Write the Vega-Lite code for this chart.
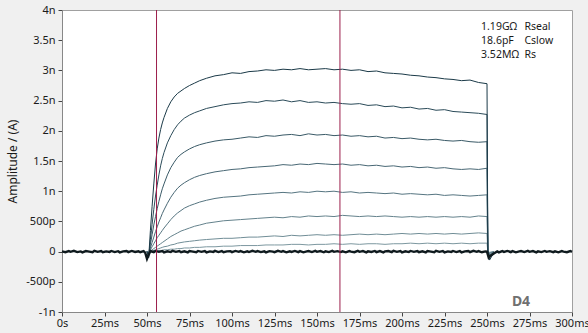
{
  "$schema": "https://vega.github.io/schema/vega-lite/v6.json",
  "width": 510,
  "height": 302,
  "autosize": "none",
  "padding": {"left": 62, "top": 10, "right": 16, "bottom": 21},
  "background": "#f0f0f0",
  "config": {
    "view": {"fill": "white", "stroke": "#a0a0a0"},
    "font": "Noto Sans",
    "axis": {"grid": false, "tickSize": 4, "labelFontSize": 11, "labelColor": "#1a1a1a", "domainColor": "#888888", "tickColor": "#444444", "titleFontWeight": "normal", "titleFontSize": 12, "titleColor": "#1a1a1a", "labelFlush": false, "labelOverlap": false}
  },
  "datasets": {
    "traces": [
      {"t": 50, "a": 0, "b": 0, "c": 0, "d": 0, "e": 0, "f": 0, "g": 0, "h": 0},
      {"t": 51, "a": -0.1, "b": -0.08, "c": -0.06, "d": -0.05, "e": -0.04, "f": -0.03, "g": -0.02, "h": -0.01},
      {"t": 52, "a": 0.35, "b": 0.2, "c": 0.12, "d": 0.06, "e": 0.03, "f": 0.01, "g": 0, "h": 0},
      {"t": 53, "a": 0.75, "b": 0.45, "c": 0.28, "d": 0.15, "e": 0.08, "f": 0.03, "g": 0.01, "h": 0},
      {"t": 54, "a": 1.12, "b": 0.7, "c": 0.44, "d": 0.24, "e": 0.13, "f": 0.05, "g": 0.02, "h": 0.01},
      {"t": 55, "a": 1.45, "b": 0.92, "c": 0.58, "d": 0.33, "e": 0.18, "f": 0.07, "g": 0.03, "h": 0.01},
      {"t": 56, "a": 1.7, "b": 1.1, "c": 0.71, "d": 0.41, "e": 0.23, "f": 0.09, "g": 0.04, "h": 0.01},
      {"t": 57, "a": 1.88, "b": 1.27, "c": 0.83, "d": 0.49, "e": 0.27, "f": 0.11, "g": 0.05, "h": 0.02},
      {"t": 58, "a": 2.02, "b": 1.42, "c": 0.94, "d": 0.56, "e": 0.31, "f": 0.13, "g": 0.06, "h": 0.02},
      {"t": 59, "a": 2.13, "b": 1.54, "c": 1.04, "d": 0.63, "e": 0.35, "f": 0.15, "g": 0.07, "h": 0.02},
      {"t": 60, "a": 2.22, "b": 1.64, "c": 1.12, "d": 0.69, "e": 0.39, "f": 0.17, "g": 0.08, "h": 0.03},
      {"t": 62, "a": 2.37, "b": 1.8, "c": 1.27, "d": 0.8, "e": 0.46, "f": 0.21, "g": 0.09, "h": 0.03},
      {"t": 64, "a": 2.48, "b": 1.92, "c": 1.39, "d": 0.9, "e": 0.53, "f": 0.25, "g": 0.11, "h": 0.04},
      {"t": 66, "a": 2.56, "b": 2.02, "c": 1.48, "d": 0.98, "e": 0.59, "f": 0.28, "g": 0.12, "h": 0.04},
      {"t": 68, "a": 2.62, "b": 2.1, "c": 1.56, "d": 1.05, "e": 0.64, "f": 0.31, "g": 0.14, "h": 0.05},
      {"t": 70, "a": 2.66, "b": 2.16, "c": 1.61, "d": 1.1, "e": 0.68, "f": 0.34, "g": 0.15, "h": 0.05},
      {"t": 72, "a": 2.7, "b": 2.21, "c": 1.65, "d": 1.14, "e": 0.72, "f": 0.36, "g": 0.16, "h": 0.06},
      {"t": 75, "a": 2.75, "b": 2.26, "c": 1.7, "d": 1.19, "e": 0.76, "f": 0.39, "g": 0.17, "h": 0.06},
      {"t": 78, "a": 2.79, "b": 2.3, "c": 1.74, "d": 1.23, "e": 0.79, "f": 0.42, "g": 0.18, "h": 0.07},
      {"t": 81, "a": 2.83, "b": 2.33, "c": 1.77, "d": 1.26, "e": 0.82, "f": 0.44, "g": 0.19, "h": 0.07},
      {"t": 85, "a": 2.87, "b": 2.37, "c": 1.8, "d": 1.29, "e": 0.85, "f": 0.47, "g": 0.2, "h": 0.08},
      {"t": 90, "a": 2.91, "b": 2.4, "c": 1.83, "d": 1.32, "e": 0.88, "f": 0.49, "g": 0.21, "h": 0.08},
      {"t": 95, "a": 2.93, "b": 2.43, "c": 1.85, "d": 1.34, "e": 0.9, "f": 0.51, "g": 0.22, "h": 0.09},
      {"t": 100, "a": 2.96, "b": 2.45, "c": 1.86, "d": 1.36, "e": 0.91, "f": 0.52, "g": 0.22, "h": 0.09},
      {"t": 105, "a": 2.95, "b": 2.46, "c": 1.88, "d": 1.37, "e": 0.92, "f": 0.53, "g": 0.23, "h": 0.1},
      {"t": 110, "a": 2.98, "b": 2.48, "c": 1.9, "d": 1.39, "e": 0.94, "f": 0.54, "g": 0.24, "h": 0.1},
      {"t": 115, "a": 2.99, "b": 2.47, "c": 1.89, "d": 1.4, "e": 0.95, "f": 0.55, "g": 0.24, "h": 0.1},
      {"t": 120, "a": 3.01, "b": 2.5, "c": 1.92, "d": 1.41, "e": 0.96, "f": 0.56, "g": 0.25, "h": 0.11},
      {"t": 125, "a": 3.0, "b": 2.49, "c": 1.91, "d": 1.42, "e": 0.97, "f": 0.57, "g": 0.26, "h": 0.11},
      {"t": 130, "a": 3.02, "b": 2.51, "c": 1.93, "d": 1.44, "e": 0.98, "f": 0.56, "g": 0.25, "h": 0.11},
      {"t": 135, "a": 3.01, "b": 2.48, "c": 1.94, "d": 1.43, "e": 0.97, "f": 0.58, "g": 0.27, "h": 0.12},
      {"t": 140, "a": 3.03, "b": 2.5, "c": 1.92, "d": 1.45, "e": 0.99, "f": 0.57, "g": 0.26, "h": 0.12},
      {"t": 145, "a": 3.01, "b": 2.47, "c": 1.95, "d": 1.44, "e": 0.98, "f": 0.59, "g": 0.27, "h": 0.11},
      {"t": 150, "a": 3.02, "b": 2.48, "c": 1.93, "d": 1.46, "e": 1.0, "f": 0.58, "g": 0.28, "h": 0.12},
      {"t": 155, "a": 3.03, "b": 2.46, "c": 1.94, "d": 1.45, "e": 0.99, "f": 0.59, "g": 0.27, "h": 0.12},
      {"t": 160, "a": 3.01, "b": 2.47, "c": 1.92, "d": 1.44, "e": 1.0, "f": 0.58, "g": 0.28, "h": 0.13},
      {"t": 165, "a": 3.02, "b": 2.45, "c": 1.93, "d": 1.45, "e": 0.98, "f": 0.6, "g": 0.27, "h": 0.12},
      {"t": 170, "a": 3.0, "b": 2.44, "c": 1.91, "d": 1.43, "e": 0.99, "f": 0.59, "g": 0.28, "h": 0.13},
      {"t": 175, "a": 3.01, "b": 2.45, "c": 1.92, "d": 1.44, "e": 0.97, "f": 0.58, "g": 0.29, "h": 0.12},
      {"t": 180, "a": 2.98, "b": 2.42, "c": 1.9, "d": 1.42, "e": 0.98, "f": 0.59, "g": 0.28, "h": 0.13},
      {"t": 185, "a": 2.99, "b": 2.43, "c": 1.91, "d": 1.43, "e": 0.97, "f": 0.58, "g": 0.29, "h": 0.13},
      {"t": 190, "a": 2.96, "b": 2.4, "c": 1.88, "d": 1.41, "e": 0.96, "f": 0.59, "g": 0.28, "h": 0.12},
      {"t": 195, "a": 2.95, "b": 2.41, "c": 1.89, "d": 1.42, "e": 0.97, "f": 0.58, "g": 0.29, "h": 0.13},
      {"t": 200, "a": 2.94, "b": 2.38, "c": 1.87, "d": 1.4, "e": 0.95, "f": 0.57, "g": 0.3, "h": 0.13},
      {"t": 205, "a": 2.92, "b": 2.39, "c": 1.88, "d": 1.41, "e": 0.96, "f": 0.58, "g": 0.29, "h": 0.14},
      {"t": 210, "a": 2.91, "b": 2.36, "c": 1.86, "d": 1.39, "e": 0.95, "f": 0.57, "g": 0.3, "h": 0.13},
      {"t": 215, "a": 2.89, "b": 2.37, "c": 1.85, "d": 1.4, "e": 0.94, "f": 0.58, "g": 0.29, "h": 0.14},
      {"t": 220, "a": 2.88, "b": 2.34, "c": 1.86, "d": 1.38, "e": 0.95, "f": 0.57, "g": 0.3, "h": 0.13},
      {"t": 225, "a": 2.86, "b": 2.35, "c": 1.84, "d": 1.39, "e": 0.93, "f": 0.58, "g": 0.29, "h": 0.14},
      {"t": 230, "a": 2.85, "b": 2.32, "c": 1.83, "d": 1.37, "e": 0.94, "f": 0.57, "g": 0.3, "h": 0.13},
      {"t": 235, "a": 2.83, "b": 2.31, "c": 1.84, "d": 1.36, "e": 0.93, "f": 0.58, "g": 0.29, "h": 0.14},
      {"t": 240, "a": 2.84, "b": 2.3, "c": 1.82, "d": 1.37, "e": 0.92, "f": 0.57, "g": 0.3, "h": 0.13},
      {"t": 245, "a": 2.8, "b": 2.29, "c": 1.81, "d": 1.36, "e": 0.93, "f": 0.59, "g": 0.31, "h": 0.14},
      {"t": 250, "a": 2.78, "b": 2.27, "c": 1.82, "d": 1.38, "e": 0.94, "f": 0.58, "g": 0.3, "h": 0.14},
      {"t": 250.5, "a": 0.02, "b": 0.02, "c": 0.02, "d": 0.02, "e": 0.01, "f": 0.01, "g": 0, "h": 0},
      {"t": 251.5, "a": -0.14, "b": -0.1, "c": -0.08, "d": -0.06, "e": -0.05, "f": -0.03, "g": -0.02, "h": -0.01},
      {"t": 254, "a": -0.02, "b": -0.02, "c": -0.01, "d": -0.01, "e": 0, "f": 0, "g": 0, "h": 0}
    ],
    "base": [
      {"t": 0, "v": 0.005}, {"t": 2, "v": -0.01}, {"t": 4, "v": 0.008}, {"t": 5, "v": -0.004}, {"t": 7, "v": 0.012},
      {"t": 9, "v": -0.008}, {"t": 11, "v": 0.003}, {"t": 12, "v": -0.012}, {"t": 14, "v": 0.009}, {"t": 16, "v": 0.0},
      {"t": 18, "v": -0.009}, {"t": 19, "v": 0.012}, {"t": 21, "v": -0.004}, {"t": 23, "v": 0.008}, {"t": 24, "v": -0.011},
      {"t": 26, "v": 0.004}, {"t": 28, "v": -0.005}, {"t": 29, "v": 0.011}, {"t": 31, "v": -0.008}, {"t": 33, "v": 0.007},
      {"t": 34, "v": -0.012}, {"t": 36, "v": 0.004}, {"t": 38, "v": 0.009}, {"t": 39, "v": -0.008}, {"t": 41, "v": 0.011},
      {"t": 43, "v": -0.005}, {"t": 45, "v": 0.006}, {"t": 46, "v": -0.01}, {"t": 48, "v": 0.008}, {"t": 49, "v": -0.02},
      {"t": 50, "v": -0.12}, {"t": 51, "v": -0.05}, {"t": 52, "v": 0.01}, {"t": 54, "v": -0.008}, {"t": 55, "v": 0.011},
      {"t": 57, "v": -0.004}, {"t": 59, "v": 0.008}, {"t": 60, "v": -0.012}, {"t": 62, "v": 0.004}, {"t": 64, "v": -0.008},
      {"t": 65, "v": 0.012}, {"t": 67, "v": -0.004}, {"t": 69, "v": 0.009}, {"t": 70, "v": -0.009}, {"t": 72, "v": 0.004},
      {"t": 74, "v": -0.012}, {"t": 75, "v": 0.008}, {"t": 77, "v": 0.0}, {"t": 79, "v": -0.009}, {"t": 80, "v": 0.011},
      {"t": 82, "v": -0.004}, {"t": 84, "v": 0.008}, {"t": 85, "v": -0.012}, {"t": 87, "v": 0.004}, {"t": 89, "v": -0.005},
      {"t": 90, "v": 0.012}, {"t": 92, "v": -0.008}, {"t": 94, "v": 0.008}, {"t": 95, "v": -0.011}, {"t": 97, "v": 0.004},
      {"t": 99, "v": 0.008}, {"t": 100, "v": -0.009}, {"t": 102, "v": 0.011}, {"t": 104, "v": -0.004}, {"t": 105, "v": 0.008},
      {"t": 107, "v": -0.012}, {"t": 109, "v": 0.004}, {"t": 110, "v": -0.008}, {"t": 112, "v": 0.012}, {"t": 114, "v": -0.004},
      {"t": 115, "v": 0.008}, {"t": 117, "v": -0.008}, {"t": 119, "v": 0.004}, {"t": 120, "v": -0.012}, {"t": 122, "v": 0.008},
      {"t": 124, "v": 0.0}, {"t": 125, "v": -0.009}, {"t": 127, "v": 0.012}, {"t": 129, "v": -0.004}, {"t": 130, "v": 0.008},
      {"t": 132, "v": -0.012}, {"t": 134, "v": 0.004}, {"t": 135, "v": -0.005}, {"t": 137, "v": 0.011}, {"t": 139, "v": -0.008},
      {"t": 140, "v": 0.008}, {"t": 142, "v": -0.012}, {"t": 144, "v": 0.004}, {"t": 145, "v": 0.009}, {"t": 147, "v": -0.008},
      {"t": 149, "v": 0.012}, {"t": 150, "v": -0.004}, {"t": 152, "v": 0.008}, {"t": 154, "v": -0.011}, {"t": 155, "v": 0.004},
      {"t": 157, "v": -0.008}, {"t": 159, "v": 0.012}, {"t": 160, "v": -0.004}, {"t": 162, "v": 0.008}, {"t": 164, "v": -0.008},
      {"t": 165, "v": 0.004}, {"t": 167, "v": -0.012}, {"t": 169, "v": 0.008}, {"t": 170, "v": 0.0}, {"t": 172, "v": -0.009},
      {"t": 174, "v": 0.012}, {"t": 175, "v": -0.004}, {"t": 177, "v": 0.008}, {"t": 179, "v": -0.012}, {"t": 180, "v": 0.004},
      {"t": 182, "v": -0.005}, {"t": 184, "v": 0.011}, {"t": 185, "v": -0.008}, {"t": 187, "v": 0.008}, {"t": 189, "v": -0.012},
      {"t": 190, "v": 0.004}, {"t": 192, "v": 0.009}, {"t": 194, "v": -0.008}, {"t": 195, "v": 0.012}, {"t": 197, "v": -0.004},
      {"t": 199, "v": 0.008}, {"t": 200, "v": -0.012}, {"t": 202, "v": 0.004}, {"t": 204, "v": -0.008}, {"t": 205, "v": 0.011},
      {"t": 207, "v": -0.004}, {"t": 209, "v": 0.008}, {"t": 210, "v": -0.009}, {"t": 212, "v": 0.004}, {"t": 214, "v": -0.012},
      {"t": 215, "v": 0.008}, {"t": 217, "v": 0.0}, {"t": 219, "v": -0.009}, {"t": 220, "v": 0.012}, {"t": 222, "v": -0.004},
      {"t": 224, "v": 0.008}, {"t": 225, "v": -0.012}, {"t": 227, "v": 0.004}, {"t": 229, "v": -0.005}, {"t": 230, "v": 0.011},
      {"t": 232, "v": -0.008}, {"t": 234, "v": 0.008}, {"t": 235, "v": -0.012}, {"t": 237, "v": 0.004}, {"t": 239, "v": 0.009},
      {"t": 240, "v": -0.008}, {"t": 242, "v": 0.012}, {"t": 244, "v": -0.004}, {"t": 245, "v": 0.008}, {"t": 247, "v": -0.011},
      {"t": 249, "v": 0.004}, {"t": 250, "v": 0.0}, {"t": 251, "v": -0.1}, {"t": 252, "v": -0.07}, {"t": 254, "v": -0.03},
      {"t": 256, "v": 0.004}, {"t": 257, "v": -0.012}, {"t": 259, "v": 0.008}, {"t": 260, "v": -0.005}, {"t": 262, "v": 0.011},
      {"t": 264, "v": -0.008}, {"t": 265, "v": 0.008}, {"t": 267, "v": -0.012}, {"t": 269, "v": 0.004}, {"t": 270, "v": 0.009},
      {"t": 272, "v": -0.008}, {"t": 274, "v": 0.012}, {"t": 275, "v": -0.004}, {"t": 277, "v": 0.008}, {"t": 279, "v": -0.012},
      {"t": 280, "v": 0.004}, {"t": 282, "v": -0.008}, {"t": 284, "v": 0.011}, {"t": 285, "v": -0.004}, {"t": 287, "v": 0.008},
      {"t": 289, "v": -0.009}, {"t": 290, "v": 0.004}, {"t": 292, "v": -0.012}, {"t": 294, "v": 0.008}, {"t": 295, "v": 0.0},
      {"t": 297, "v": -0.009}, {"t": 299, "v": 0.01}, {"t": 300, "v": -0.004}
    ],
    "cursors": [{"t": 55.6}, {"t": 163.5}],
    "info": [
      {"t": 246.5, "v": 3.725, "txt": "1.19GΩ"},
      {"t": 272, "v": 3.725, "txt": "Rseal"},
      {"t": 246.5, "v": 3.488, "txt": "18.6pF"},
      {"t": 272, "v": 3.488, "txt": "Cslow"},
      {"t": 246.5, "v": 3.257, "txt": "3.52MΩ"},
      {"t": 272, "v": 3.257, "txt": "Rs"}
    ],
    "label": [{"t": 270, "v": -0.83, "txt": "D4"}]
  },
  "layer": [
    {
      "data": {"name": "traces"},
      "transform": [{"fold": ["h", "g", "f", "e", "d", "c", "b", "a"], "as": ["s", "v"]}],
      "mark": {"type": "line", "strokeWidth": 1, "interpolate": "linear"},
      "encoding": {
        "x": {"field": "t", "type": "quantitative", "scale": {"domain": [0, 300], "nice": false, "zero": false}, "title": null,
          "axis": {"values": [0, 25, 50, 75, 100, 125, 150, 175, 200, 225, 250, 275, 300], "labelExpr": "datum.value == 0 ? '0s' : datum.value + 'ms'", "labelPadding": 1, "labelOverlap": false, "labelFlush": false}},
        "y": {"field": "v", "type": "quantitative", "scale": {"domain": [-1, 4], "nice": false, "zero": false}, "title": "Amplitude / (A)",
          "axis": {"tickCount": 10, "labelExpr": "datum.value == 0 ? '0' : (abs(datum.value) < 1 ? (datum.value * 1000) + 'p' : datum.value + 'n')", "labelPadding": 3, "titlePadding": 6, "labelOverlap": false, "labelFlush": false}},
        "color": {"field": "s", "type": "nominal", "scale": {"domain": ["a", "b", "c", "d", "e", "f", "g", "h"], "range": ["#1b3a48", "#2b4b59", "#3a5a67", "#496875", "#567581", "#64828c", "#718e97", "#7d98a0"]}, "legend": null},
        "detail": {"field": "s"}
      }
    },
    {
      "data": {"name": "base"},
      "mark": {"type": "line", "strokeWidth": 2.4, "color": "#0f1a1e"},
      "encoding": {
        "x": {"field": "t", "type": "quantitative", "title": null},
        "y": {"field": "v", "type": "quantitative", "title": "Amplitude / (A)"}
      }
    },
    {
      "data": {"name": "cursors"},
      "mark": {"type": "rule", "color": "#9c1f4c", "strokeWidth": 1},
      "encoding": {
        "x": {"field": "t", "type": "quantitative", "title": null}
      }
    },
    {
      "data": {"name": "info"},
      "mark": {"type": "text", "align": "left", "baseline": "middle", "fontSize": 10.5, "color": "#1a1a1a"},
      "encoding": {
        "x": {"field": "t", "type": "quantitative", "title": null},
        "y": {"field": "v", "type": "quantitative", "title": "Amplitude / (A)"},
        "text": {"field": "txt"}
      }
    },
    {
      "data": {"name": "label"},
      "mark": {"type": "text", "align": "center", "baseline": "middle", "fontSize": 14, "fontWeight": "bold", "color": "#707070"},
      "encoding": {
        "x": {"field": "t", "type": "quantitative", "title": null},
        "y": {"field": "v", "type": "quantitative", "title": "Amplitude / (A)"},
        "text": {"field": "txt"}
      }
    }
  ]
}
